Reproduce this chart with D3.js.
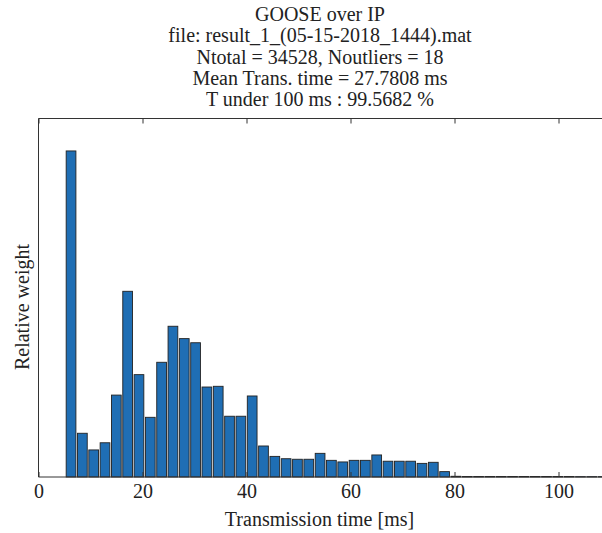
<!DOCTYPE html>
<html><head><meta charset="utf-8">
<script src="https://cdn.jsdelivr.net/npm/d3@7"></script>
<style>
body{margin:0;background:#fff;}
text{font-family:"Liberation Serif","DejaVu Serif",serif;fill:#222;}
</style></head>
<body>
<svg id="c" width="602" height="533"></svg>
<script>
const titleLines = ["GOOSE over IP","file: result_1_(05-15-2018_1444).mat","Ntotal = 34528, Noutliers = 18","Mean Trans. time = 27.7808 ms","T under 100 ms : 99.5682 %"];
const xLabel = "Transmission time [ms]";
const yLabel = "Relative weight";
const binStart = 5.17;
const binWidth = 2.177;
const weights = [0.1819,0.0244,0.0151,0.0191,0.0457,0.1036,0.0571,0.0333,0.0640,0.0841,0.0772,0.0749,0.0502,0.0506,0.0339,0.0339,0.0452,0.0173,0.0115,0.0102,0.0099,0.0099,0.0132,0.0093,0.0084,0.0093,0.0093,0.0123,0.0088,0.0088,0.0088,0.0076,0.0082,0.0030,
0.0004,0.0003,0.0003,0.0003,0.0003,0.0003,0.0003,0.0003,0.0003,0.0003,0.0003,0.0002,0.0002,0.0002];
const xTicks = [0,20,40,60,80,100];
const xDomain = [0,108.5];
const yDomain = [0,0.2];

const svg = d3.select("#c");
const L = 38.5, T = 118.5, B = 477, R = 38.5 + 108.5*5.2;
const x = d3.scaleLinear().domain(xDomain).range([L, R]);
const y = d3.scaleLinear().domain(yDomain).range([B, T]);

const bins = weights.map((w,i)=>({x0: binStart + i*binWidth, w}));
const bw = (x(binWidth) - x(0));
const frac = 0.86;
svg.append("g").selectAll("rect").data(bins).join("rect")
  .attr("x", d => x(d.x0) + bw*(1-frac)/2)
  .attr("width", bw*frac)
  .attr("y", d => y(d.w))
  .attr("height", d => B - y(d.w))
  .attr("fill", "#1f6eb4")
  .attr("stroke", "#222")
  .attr("stroke-width", 0.9);

// box
const box = svg.append("g").attr("stroke","#333").attr("stroke-width",1).attr("fill","none");
box.append("line").attr("x1",L).attr("x2",L).attr("y1",T).attr("y2",B);
box.append("line").attr("x1",L).attr("x2",R+5).attr("y1",T).attr("y2",T);
box.append("line").attr("x1",L).attr("x2",R+5).attr("y1",B).attr("y2",B);

// bottom axis ticks inward
const axB = d3.axisBottom(x).tickValues(xTicks).tickSizeInner(-5).tickSizeOuter(0).tickPadding(0);
const gB = svg.append("g").attr("transform",`translate(0,${B})`).call(axB);
gB.select(".domain").remove();
gB.selectAll("line").attr("stroke","#333");
gB.selectAll("text").attr("dy",null).attr("y",21).attr("font-size",20).attr("font-family","Liberation Serif, DejaVu Serif, serif").attr("fill","#222");
const axT = d3.axisTop(x).tickValues(xTicks).tickSizeInner(-5).tickSizeOuter(0).tickFormat("");
const gT = svg.append("g").attr("transform",`translate(0,${T})`).call(axT);
gT.select(".domain").remove();
gT.selectAll("line").attr("stroke","#333");

// titles
svg.append("g").selectAll("text").data(titleLines).join("text")
  .attr("x", 320).attr("y", (d,i)=> 20.7 + i*21.4)
  .attr("text-anchor","middle").attr("font-size",20).text(d=>d);
svg.append("text").attr("x",319.5).attr("y",526).attr("text-anchor","middle").attr("font-size",20).text(xLabel);
svg.append("text").attr("transform",`translate(29,307) rotate(-90)`).attr("text-anchor","middle").attr("font-size",20).text(yLabel);
</script>
</body></html>
